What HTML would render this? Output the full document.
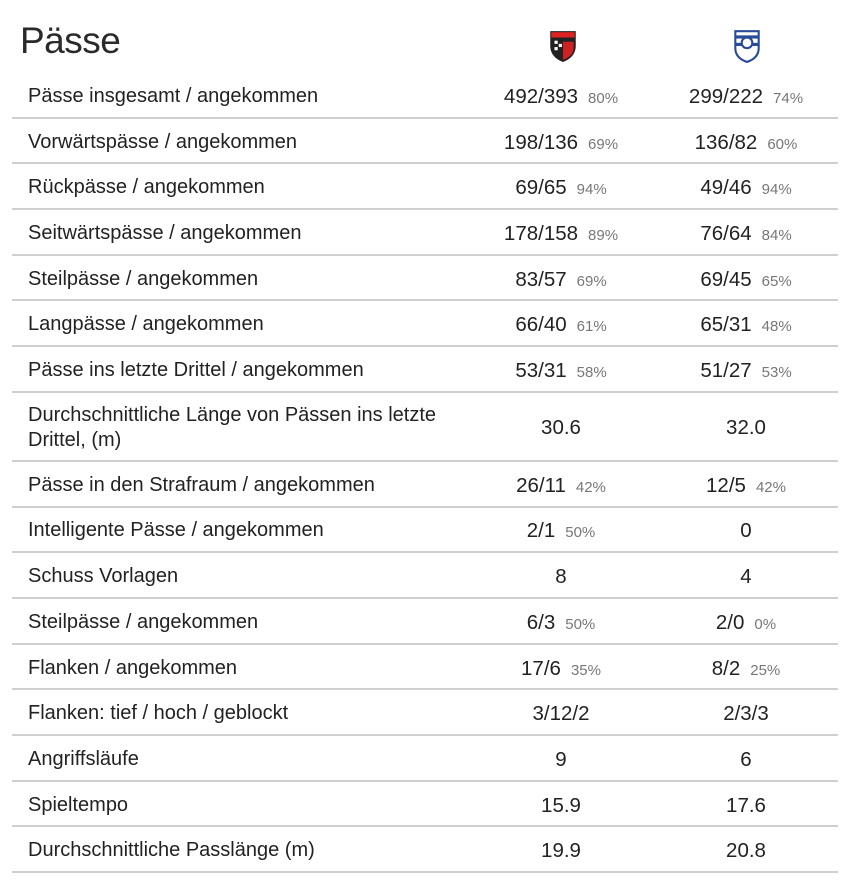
<!DOCTYPE html>
<html><head><meta charset="utf-8"><style>
body{margin:0;width:864px;height:894px;background:#fff;font-family:"Liberation Sans",sans-serif;color:#222;position:relative;overflow:hidden}
h1{position:absolute;left:20px;top:20px;margin:0;font-weight:normal;font-size:37px;color:#2a2a2a;letter-spacing:-0.5px}
.logo{position:absolute;top:29px}
.row{position:absolute;left:12px;width:826px;border-bottom:2px solid #cfcfcf;box-sizing:border-box}
.lab{position:absolute;left:16px;font-size:20px;line-height:25px;width:445px}
.v{position:absolute;width:200px;text-align:center;font-size:20.5px;white-space:nowrap}
.v1{left:449px}.v2{left:634px}
.p{font-size:15px;color:#777;margin-left:10px}
</style></head><body>
<h1>Pässe</h1>
<svg class="logo" style="left:548px" width="30" height="34" viewBox="0 0 28 32"><path d="M2 2h24v14c0 8-6 13-12 15C8 29 2 24 2 16z" fill="#222"/><rect x="3" y="3" width="22" height="5" fill="#d22"/><path d="M14 12l10 0v6c0 5-4 9-10 11z" fill="#c22"/><rect x="6" y="11" width="3" height="3" fill="#fff"/><rect x="10" y="14" width="3" height="3" fill="#fff"/><rect x="6" y="17" width="3" height="3" fill="#fff"/></svg>
<svg class="logo" style="left:734px" width="26" height="34" viewBox="0 0 24 32"><path d="M1 2h22v16c0 7-5 11-11 13C6 29 1 25 1 18z" fill="#fff" stroke="#2a4a9a" stroke-width="2"/><rect x="1" y="6" width="22" height="3" fill="#2a4a9a"/><rect x="1" y="13" width="22" height="3" fill="#2a4a9a"/><circle cx="12" cy="13" r="5" fill="#fff" stroke="#2a4a9a" stroke-width="2"/></svg>
<div id="tbl"></div>
<script>
const labels=["Pässe insgesamt / angekommen","Vorwärtspässe / angekommen","Rückpässe / angekommen","Seitwärtspässe / angekommen","Steilpässe / angekommen","Langpässe / angekommen","Pässe ins letzte Drittel / angekommen","Durchschnittliche Länge von Pässen ins letzte Drittel, (m)","Pässe in den Strafraum / angekommen","Intelligente Pässe / angekommen","Schuss Vorlagen","Steilpässe / angekommen","Flanken / angekommen","Flanken: tief / hoch / geblockt","Angriffsläufe","Spieltempo","Durchschnittliche Passlänge (m)"];
const team1=["492/393","198/136","69/65","178/158","83/57","66/40","53/31","30.6","26/11","2/1","8","6/3","17/6","3/12/2","9","15.9","19.9"];
const pct1=["80%","69%","94%","89%","69%","61%","58%","","42%","50%","","50%","35%","","","",""];
const team2=["299/222","136/82","49/46","76/64","69/45","65/31","51/27","32.0","12/5","0","4","2/0","8/2","2/3/3","6","17.6","20.8"];
const pct2=["74%","60%","94%","84%","65%","48%","53%","","42%","","","0%","25%","","","",""];
const tbl=document.getElementById('tbl');
let y=72;
labels.forEach((l,i)=>{
  const h=i===7?69:45.7;
  const r=document.createElement('div');
  r.className='row';
  
  
  r.style.top=y+'px';r.style.height=(h+1)+'px';
  const mid=h/2+1.5;
  const lt=i===7?mid-25:mid-12.5;
  r.innerHTML=`<div class="lab" style="top:${lt}px">${l}</div>`+
   `<div class="v v1" style="top:${mid-12.5}px;line-height:25px">${team1[i]}${pct1[i]?'<span class="p">'+pct1[i]+'</span>':''}</div>`+
   `<div class="v v2" style="top:${mid-12.5}px;line-height:25px">${team2[i]}${pct2[i]?'<span class="p">'+pct2[i]+'</span>':''}</div>`;
  tbl.appendChild(r);
  y+=h;
});
</script>
</body></html>
